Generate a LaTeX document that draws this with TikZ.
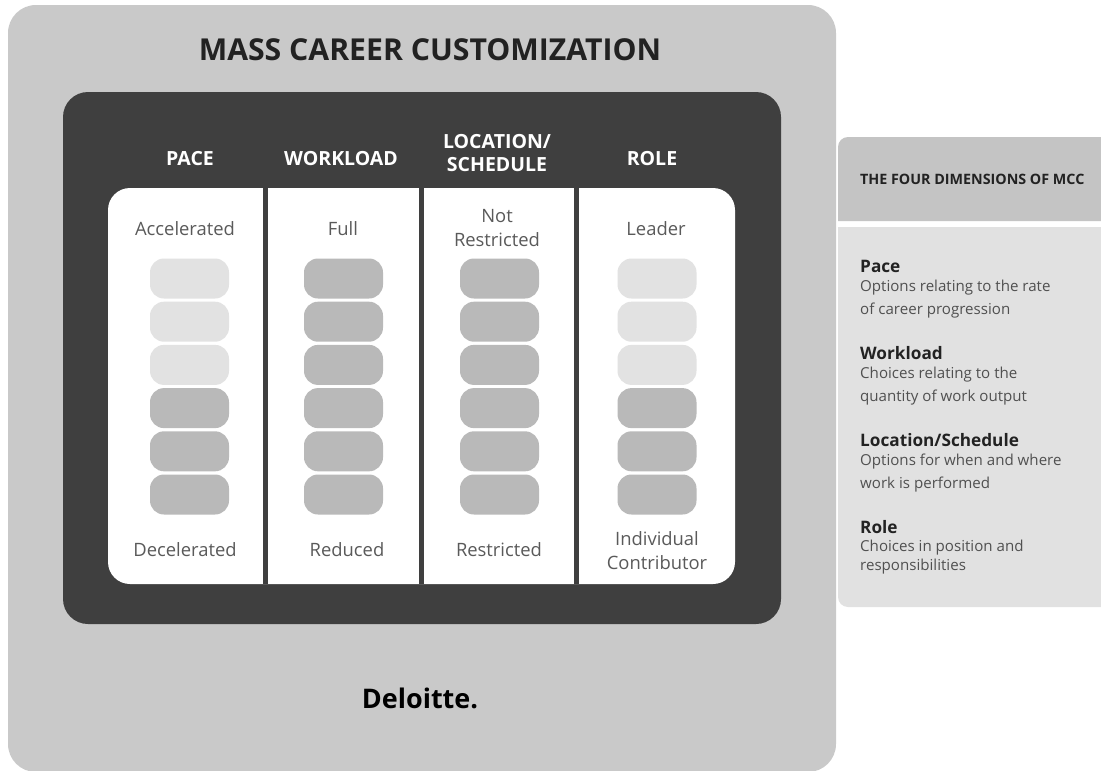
\documentclass[tikz,border=0pt]{standalone}
\usepackage{fontspec}
\setmainfont{Open Sans}
\definecolor{outerg}{HTML}{C9C9C9}
\definecolor{darkg}{HTML}{3F3F3F}
\definecolor{pillL}{HTML}{E2E2E2}
\definecolor{pillD}{HTML}{B9B9B9}
\definecolor{headg}{HTML}{C4C4C4}
\definecolor{sideg}{HTML}{E1E1E1}
\definecolor{labelg}{HTML}{5A5A5A}
\definecolor{bodyg}{HTML}{505050}
\definecolor{inkg}{HTML}{222222}
\tikzset{
  pill/.style={rounded corners=14pt,minimum width=79pt,minimum height=40pt,inner sep=0pt},
  pillLight/.style={pill,fill=pillL},
  pillDark/.style={pill,fill=pillD},
  colhead/.style={text=white,font=\fontsize{19.5}{23}\selectfont\bfseries,align=center,inner sep=0pt},
  endlabel/.style={text=labelg,font=\fontsize{18.4}{24}\selectfont,align=center,inner sep=0pt},
  sidehead/.style={text=inkg,font=\fontsize{17.2}{18}\selectfont\bfseries,anchor=west,inner sep=0pt},
  sidebody/.style={text=bodyg,font=\fontsize{15.1}{23}\selectfont,anchor=north west,align=left,inner sep=0pt},
}
\begin{document}
\begin{tikzpicture}[x=1pt,y=-1pt]
\useasboundingbox (0,0) rectangle (1101,771);
\fill[white] (0,0) rectangle (1101,771);
% main panels
\fill[outerg,rounded corners=28pt] (8,5) rectangle (836,772);
\fill[darkg,rounded corners=25pt] (63,92) rectangle (781,624);
\fill[white,rounded corners=22pt] (108,188) rectangle (735,584);
\fill[darkg] (263,188) rectangle (268,584);
\fill[darkg] (419,188) rectangle (424,584);
\fill[darkg] (574,188) rectangle (579,584);
% titles
\node[inner sep=0pt,text=inkg,font=\fontsize{30.2}{34}\selectfont\bfseries] (title) at (430,50) {MASS CAREER CUSTOMIZATION};
\node[inner sep=0pt,text=black,font=\fontsize{27}{30}\selectfont\bfseries] (brand) at (420,698) {Deloitte.};
% column headers
\node[colhead] (hpace) at (190,159) {PACE};
\node[colhead] (hwork) at (341,159) {WORKLOAD};
\node[colhead] (hloc) at (497,153) {LOCATION/\\SCHEDULE};
\node[colhead] (hrole) at (652,159) {ROLE};
% end labels
\node[endlabel] (t1) at (185,229) {Accelerated};
\node[endlabel] (t2) at (343,229) {Full};
\node[endlabel] (t3) at (497,228) {Not\\Restricted};
\node[endlabel] (t4) at (656,229) {Leader};
\node[endlabel] (b1) at (185,550) {Decelerated};
\node[endlabel] (b2) at (347,550) {Reduced};
\node[endlabel] (b3) at (499,550) {Restricted};
\node[endlabel] (b4) at (657,551) {Individual\\Contributor};
% pills
\foreach \cx/\cn/\nl in {189.5/a/3,343.5/b/0,499.5/c/0,657/d/3}{
  \foreach \i in {1,...,6}{
    \pgfmathsetmacro{\py}{278.5+(\i-1)*43.2}
    \ifnum\i>\nl
      \node[pillDark] (p\cn\i) at (\cx,\py) {};
    \else
      \node[pillLight] (p\cn\i) at (\cx,\py) {};
    \fi
  }
}
% side panel
\fill[headg] (838,221) [rounded corners=10pt] -- (838,137) [sharp corners] -- (1101,137) -- (1101,221) -- cycle;
\fill[sideg] (1101,227) -- (1101,607) [rounded corners=10pt] -- (838,607) [sharp corners] -- (838,227) -- cycle;
\node[inner sep=0pt,anchor=west,text=inkg,font=\fontsize{14.3}{16}\selectfont\bfseries] (sidetitle) at (860,179) {THE FOUR DIMENSIONS OF MCC};
\node[sidehead] (s1) at (860,266) {Pace};
\node[sidebody] (s1b) at (860,280) {Options relating to the rate\\of career progression};
\node[sidehead] (s2) at (860,353) {Workload};
\node[sidebody] (s2b) at (860,367) {Choices relating to the\\quantity of work output};
\node[sidehead] (s3) at (860,440) {Location/Schedule};
\node[sidebody] (s3b) at (860,453.5) {Options for when and where\\work is performed};
\node[sidehead] (s4) at (860,527) {Role};
\node[sidebody,font=\fontsize{15.1}{19}\selectfont] (s4b) at (860,540) {Choices in position and\\responsibilities};
\end{tikzpicture}
\end{document}
